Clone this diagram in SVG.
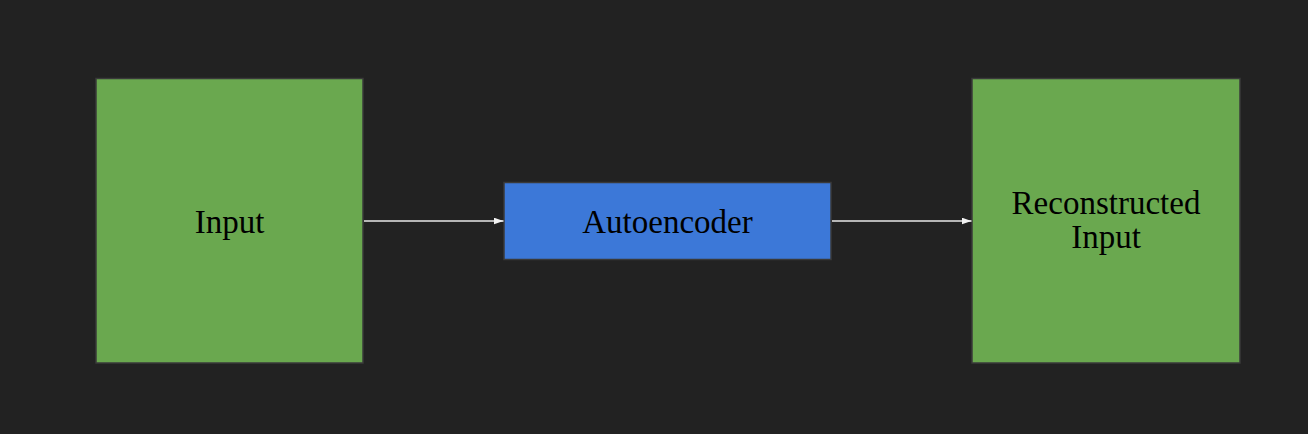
<svg xmlns="http://www.w3.org/2000/svg" width="1308" height="434" viewBox="0 0 1308 434">
  <style>
    .box { stroke: #3a3a3a; stroke-width: 1.5; }
    .green { fill: #6aa84f; }
    .blue { fill: #3c78d8; }
    .label { font-family: "Liberation Serif", "Times New Roman", serif; font-size: 33px; fill: #000000; text-anchor: middle; }
    .edge { stroke: #e8e8e8; stroke-width: 1.4; fill: none; }
  </style>
  <defs>
    <marker id="arrow" viewBox="0 0 10 7" refX="10" refY="3.5" markerWidth="10" markerHeight="7" markerUnits="userSpaceOnUse" orient="auto">
      <path d="M0,0 L10,3.5 L0,7 Z" fill="#f2f2f2"/>
    </marker>
  </defs>
  <rect width="1308" height="434" fill="#222222"/>
  <g id="input">
    <rect class="box green" x="96" y="78.5" width="267" height="284.5"/>
    <text class="label" x="229.5" y="233">Input</text>
  </g>
  <g id="autoencoder">
    <rect class="box blue" x="504" y="182.5" width="327" height="77"/>
    <text class="label" x="667.5" y="232.5">Autoencoder</text>
  </g>
  <g id="reconstructed">
    <rect class="box green" x="972" y="78.5" width="268" height="284.5"/>
    <text class="label" x="1106" y="214">Reconstructed</text>
    <text class="label" x="1106" y="248">Input</text>
  </g>
  <g id="connectors">
    <line class="edge" x1="364" y1="221" x2="503.5" y2="221" marker-end="url(#arrow)"/>
    <line class="edge" x1="832" y1="221" x2="971.5" y2="221" marker-end="url(#arrow)"/>
  </g>
</svg>
